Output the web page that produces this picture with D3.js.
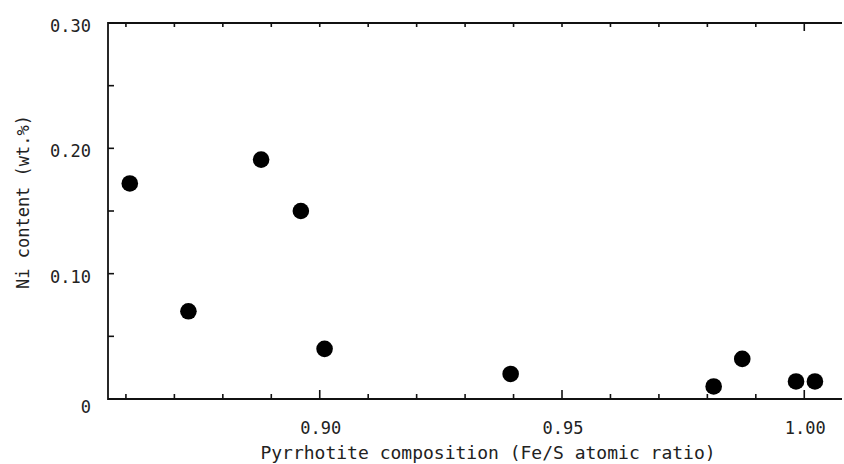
<!DOCTYPE html>
<html>
<head>
<meta charset="utf-8">
<script src="https://cdn.jsdelivr.net/npm/d3@7"></script>
<style>
  body { margin: 0; background: #fff; }
  text { font-family: "DejaVu Sans Mono", monospace; fill: #222; }
</style>
</head>
<body>
<div id="chart"></div>
<script>
// Fe/S ratio vs Ni wt.%
let feS = [0.8608, 0.8729, 0.8879, 0.8961, 0.9010, 0.9394, 0.9813, 0.9872, 0.9983, 1.0022]
let ni  = [0.172, 0.070, 0.191, 0.150, 0.040, 0.020, 0.010, 0.032, 0.014, 0.014]

let xMinor = d3.range(0.86, 1.0001, 0.01)
let xMajor = [0.90, 0.95, 1.00]
let yTicks = [0, 0.05, 0.10, 0.15, 0.20, 0.25, 0.30]
let yLabels = [0, 0.10, 0.20, 0.30]

let width = 844, height = 464

let x = d3.scaleLinear().domain([0.8563, 1.0082]).range([108, 844])
let y = d3.scaleLinear().domain([0, 0.30]).range([399, 23])

let svg = d3.select('#chart')
  .append('svg')
  .attr('width', width)
  .attr('height', height)

let isMajor = function(d) {
  return xMajor.some(function(m) { return Math.abs(m - d) < 1e-6 })
}

// frame: left, top, bottom (no right side)
let frame = svg.append('g')
  .attr('stroke', '#111')
  .attr('stroke-width', 1.8)
frame.append('line')
  .attr('x1', x.range()[0]).attr('x2', x.range()[0])
  .attr('y1', y(0.30) - 1).attr('y2', y(0) + 1)
frame.append('line')
  .attr('x1', x.range()[0]).attr('x2', x.range()[1] - 2)
  .attr('y1', y(0.30)).attr('y2', y(0.30))
frame.append('line')
  .attr('x1', x.range()[0]).attr('x2', x.range()[1] - 2)
  .attr('y1', y(0)).attr('y2', y(0))

// bottom ticks (pointing up)
svg.append('g')
  .attr('stroke', '#111')
  .attr('stroke-width', 1.6)
  .selectAll('line')
  .data(xMinor)
  .enter()
  .append('line')
  .attr('x1', function(d) { return x(d) })
  .attr('x2', function(d) { return x(d) })
  .attr('y1', y(0))
  .attr('y2', function(d) { return y(0) - (isMajor(d) ? 9 : 5) })

// top ticks (pointing down)
svg.append('g')
  .attr('stroke', '#111')
  .attr('stroke-width', 1.6)
  .selectAll('line')
  .data(xMinor)
  .enter()
  .append('line')
  .attr('x1', function(d) { return x(d) })
  .attr('x2', function(d) { return x(d) })
  .attr('y1', y(0.30))
  .attr('y2', function(d) { return y(0.30) + (Math.abs(d - 1) < 1e-6 ? 8 : 4) })

// left ticks (pointing right)
svg.append('g')
  .attr('stroke', '#111')
  .attr('stroke-width', 1.6)
  .selectAll('line')
  .data(yTicks)
  .enter()
  .append('line')
  .attr('x1', x.range()[0])
  .attr('x2', x.range()[0] + 6)
  .attr('y1', function(d) { return y(d) })
  .attr('y2', function(d) { return y(d) })

// x labels
svg.append('g')
  .selectAll('text')
  .data(xMajor)
  .enter()
  .append('text')
  .attr('x', function(d) { return x(d) + 1 })
  .attr('y', 434)
  .attr('text-anchor', 'middle')
  .style('font-size', '17px')
  .text(function(d) { return d.toFixed(2) })

// y labels
svg.append('g')
  .selectAll('text')
  .data(yLabels)
  .enter()
  .append('text')
  .attr('x', 91)
  .attr('y', function(d) { return y(d) + (d === 0 ? 14 : 9) })
  .attr('text-anchor', 'end')
  .style('font-size', '17px')
  .text(function(d) { return d === 0 ? '0' : d.toFixed(2) })

svg.append('text')
  .attr('x', 488)
  .attr('y', 459)
  .attr('text-anchor', 'middle')
  .style('font-size', '18px')
  .text('Pyrrhotite composition (Fe/S atomic ratio)')

svg.append('text')
  .attr('transform', 'translate(29,202) rotate(-90)')
  .attr('text-anchor', 'middle')
  .style('font-size', '17px')
  .text('Ni content (wt.%)')

// points
svg.append('g')
  .selectAll('circle')
  .data(feS)
  .enter()
  .append('circle')
  .attr('cx', function(d) { return x(d) })
  .attr('cy', function(d, i) { return y(ni[i]) })
  .attr('r', 8.3)
  .attr('fill', '#000')
</script>
</body>
</html>
